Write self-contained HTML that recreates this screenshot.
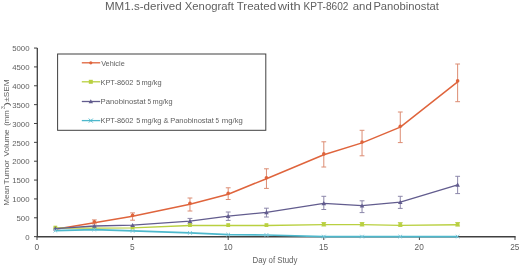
<!DOCTYPE html>
<html><head><meta charset="utf-8"><style>
html,body{margin:0;padding:0;background:#fff;width:520px;height:266px;overflow:hidden}
svg{display:block;will-change:transform}
text{font-family:"Liberation Sans",sans-serif;fill:#5f5f5f}
.t{font-size:7.8px}
.l{font-size:7.4px}
.ti{font-size:11.27px}
.xt{font-size:7.9px}
.xl{font-size:8.3px}
.yt{font-size:8.75px}
</style></head><body>
<svg width="520" height="266" viewBox="0 0 520 266">
<rect width="520" height="266" fill="#fff"/>
<g>
<path d="M37.3,47.9V236.75H515.6" stroke="#404040" stroke-width="1.3" fill="none"/>
<path d="M34,236.65H37.3" stroke="#404040" stroke-width="1"/>
<text x="29.5" y="239.85" text-anchor="end" class="t">0</text>
<path d="M34,217.79H37.3" stroke="#404040" stroke-width="1"/>
<text x="29.5" y="220.99" text-anchor="end" class="t">500</text>
<path d="M34,198.93H37.3" stroke="#404040" stroke-width="1"/>
<text x="29.5" y="202.13" text-anchor="end" class="t">1000</text>
<path d="M34,180.07H37.3" stroke="#404040" stroke-width="1"/>
<text x="29.5" y="183.27" text-anchor="end" class="t">1500</text>
<path d="M34,161.21H37.3" stroke="#404040" stroke-width="1"/>
<text x="29.5" y="164.41" text-anchor="end" class="t">2000</text>
<path d="M34,142.35H37.3" stroke="#404040" stroke-width="1"/>
<text x="29.5" y="145.55" text-anchor="end" class="t">2500</text>
<path d="M34,123.49H37.3" stroke="#404040" stroke-width="1"/>
<text x="29.5" y="126.69" text-anchor="end" class="t">3000</text>
<path d="M34,104.63H37.3" stroke="#404040" stroke-width="1"/>
<text x="29.5" y="107.83" text-anchor="end" class="t">3500</text>
<path d="M34,85.77H37.3" stroke="#404040" stroke-width="1"/>
<text x="29.5" y="88.97" text-anchor="end" class="t">4000</text>
<path d="M34,66.91H37.3" stroke="#404040" stroke-width="1"/>
<text x="29.5" y="70.11" text-anchor="end" class="t">4500</text>
<path d="M34,48.05H37.3" stroke="#404040" stroke-width="1"/>
<text x="29.5" y="51.25" text-anchor="end" class="t">5000</text>
<path d="M37.00,236.6V240" stroke="#404040" stroke-width="1"/>
<text x="36.80" y="249.9" text-anchor="middle" class="xl">0</text>
<path d="M132.60,236.6V240" stroke="#404040" stroke-width="1"/>
<text x="132.40" y="249.9" text-anchor="middle" class="xl">5</text>
<path d="M228.20,236.6V240" stroke="#404040" stroke-width="1"/>
<text x="228.00" y="249.9" text-anchor="middle" class="xl" textLength="9.2" lengthAdjust="spacingAndGlyphs">10</text>
<path d="M323.80,236.6V240" stroke="#404040" stroke-width="1"/>
<text x="323.60" y="249.9" text-anchor="middle" class="xl" textLength="9.2" lengthAdjust="spacingAndGlyphs">15</text>
<path d="M419.40,236.6V240" stroke="#404040" stroke-width="1"/>
<text x="419.20" y="249.9" text-anchor="middle" class="xl" textLength="9.2" lengthAdjust="spacingAndGlyphs">20</text>
<path d="M515.00,236.6V240" stroke="#404040" stroke-width="1"/>
<text x="514.80" y="249.9" text-anchor="middle" class="xl" textLength="9.2" lengthAdjust="spacingAndGlyphs">25</text>
<path d="M323.80,222.50V226.00M321.40,222.50H326.20M321.40,226.00H326.20" stroke="#c4d56a" stroke-width="1" fill="none"/><path d="M362.04,222.50V226.00M359.64,222.50H364.44M359.64,226.00H364.44" stroke="#c4d56a" stroke-width="1" fill="none"/><path d="M400.28,222.50V226.00M397.88,222.50H402.68M397.88,226.00H402.68" stroke="#c4d56a" stroke-width="1" fill="none"/><path d="M457.64,222.50V226.00M455.24,222.50H460.04M455.24,226.00H460.04" stroke="#c4d56a" stroke-width="1" fill="none"/>

<path d="M189.96,218.40V223.60M187.56,218.40H192.36M187.56,223.60H192.36" stroke="#8c87aa" stroke-width="1" fill="none"/><path d="M228.20,212.00V220.40M225.80,212.00H230.60M225.80,220.40H230.60" stroke="#8c87aa" stroke-width="1" fill="none"/><path d="M266.44,208.20V217.00M264.04,208.20H268.84M264.04,217.00H268.84" stroke="#8c87aa" stroke-width="1" fill="none"/><path d="M323.80,196.30V209.50M321.40,196.30H326.20M321.40,209.50H326.20" stroke="#8c87aa" stroke-width="1" fill="none"/><path d="M362.04,200.80V212.60M359.64,200.80H364.44M359.64,212.60H364.44" stroke="#8c87aa" stroke-width="1" fill="none"/><path d="M400.28,196.30V208.40M397.88,196.30H402.68M397.88,208.40H402.68" stroke="#8c87aa" stroke-width="1" fill="none"/><path d="M457.64,176.30V193.60M455.24,176.30H460.04M455.24,193.60H460.04" stroke="#8c87aa" stroke-width="1" fill="none"/>
<path d="M94.36,219.90V223.90M91.96,219.90H96.76M91.96,223.90H96.76" stroke="#dc8c72" stroke-width="1" fill="none"/><path d="M132.60,212.90V220.20M130.20,212.90H135.00M130.20,220.20H135.00" stroke="#dc8c72" stroke-width="1" fill="none"/><path d="M189.96,198.00V211.00M187.56,198.00H192.36M187.56,211.00H192.36" stroke="#dc8c72" stroke-width="1" fill="none"/><path d="M228.20,187.80V199.50M225.80,187.80H230.60M225.80,199.50H230.60" stroke="#dc8c72" stroke-width="1" fill="none"/><path d="M266.44,168.80V188.40M264.04,168.80H268.84M264.04,188.40H268.84" stroke="#dc8c72" stroke-width="1" fill="none"/><path d="M323.80,141.80V167.00M321.40,141.80H326.20M321.40,167.00H326.20" stroke="#dc8c72" stroke-width="1" fill="none"/><path d="M362.04,130.30V155.80M359.64,130.30H364.44M359.64,155.80H364.44" stroke="#dc8c72" stroke-width="1" fill="none"/><path d="M400.28,112.00V142.60M397.88,112.00H402.68M397.88,142.60H402.68" stroke="#dc8c72" stroke-width="1" fill="none"/><path d="M457.64,64.00V101.70M455.24,64.00H460.04M455.24,101.70H460.04" stroke="#dc8c72" stroke-width="1" fill="none"/>
<polyline points="55.36,229.30 94.36,222.70 132.60,216.20 189.96,204.20 228.20,194.20 266.44,178.70 323.80,154.80 362.04,142.90 400.28,127.10 457.64,81.80" fill="none" stroke="#df643c" stroke-width="1.5" stroke-linejoin="round"/>
<circle cx="55.36" cy="228.40" r="1.8" fill="#df643c"/><circle cx="94.36" cy="221.80" r="1.8" fill="#df643c"/><circle cx="132.60" cy="215.30" r="1.8" fill="#df643c"/><circle cx="189.96" cy="203.30" r="1.8" fill="#df643c"/><circle cx="228.20" cy="193.30" r="1.8" fill="#df643c"/><circle cx="266.44" cy="177.80" r="1.8" fill="#df643c"/><circle cx="323.80" cy="153.90" r="1.8" fill="#df643c"/><circle cx="362.04" cy="142.00" r="1.8" fill="#df643c"/><circle cx="400.28" cy="126.20" r="1.8" fill="#df643c"/><circle cx="457.64" cy="80.90" r="1.8" fill="#df643c"/>
<polyline points="55.36,228.00 94.36,228.10 132.60,227.90 189.96,225.50 228.20,225.50 266.44,225.50 323.80,224.60 362.04,224.60 400.28,225.40 457.64,224.80" fill="none" stroke="#b9d040" stroke-width="1.4" stroke-linejoin="round"/>
<rect x="53.46" y="225.70" width="3.8" height="3.8" fill="#b9d040"/><rect x="92.46" y="225.80" width="3.8" height="3.8" fill="#b9d040"/><rect x="130.70" y="225.60" width="3.8" height="3.8" fill="#b9d040"/><rect x="188.06" y="223.20" width="3.8" height="3.8" fill="#b9d040"/><rect x="226.30" y="223.20" width="3.8" height="3.8" fill="#b9d040"/><rect x="264.54" y="223.20" width="3.8" height="3.8" fill="#b9d040"/><rect x="321.90" y="222.30" width="3.8" height="3.8" fill="#b9d040"/><rect x="360.14" y="222.30" width="3.8" height="3.8" fill="#b9d040"/><rect x="398.38" y="223.10" width="3.8" height="3.8" fill="#b9d040"/><rect x="455.74" y="222.50" width="3.8" height="3.8" fill="#b9d040"/>
<polyline points="55.36,228.60 94.36,226.00 132.60,225.20 189.96,221.20 228.20,216.20 266.44,212.30 323.80,203.30 362.04,205.70 400.28,202.20 457.64,184.90" fill="none" stroke="#625c8e" stroke-width="1.3" stroke-linejoin="round"/>
<path d="M55.36,226.30L57.66,230.44L53.06,230.44Z" fill="#625c8e"/><path d="M94.36,223.70L96.66,227.84L92.06,227.84Z" fill="#625c8e"/><path d="M132.60,222.90L134.90,227.04L130.30,227.04Z" fill="#625c8e"/><path d="M189.96,218.90L192.26,223.04L187.66,223.04Z" fill="#625c8e"/><path d="M228.20,213.90L230.50,218.04L225.90,218.04Z" fill="#625c8e"/><path d="M266.44,210.00L268.74,214.14L264.14,214.14Z" fill="#625c8e"/><path d="M323.80,201.00L326.10,205.14L321.50,205.14Z" fill="#625c8e"/><path d="M362.04,203.40L364.34,207.54L359.74,207.54Z" fill="#625c8e"/><path d="M400.28,199.90L402.58,204.04L397.98,204.04Z" fill="#625c8e"/><path d="M457.64,182.60L459.94,186.74L455.34,186.74Z" fill="#625c8e"/>
<polyline points="55.36,230.60 94.36,229.60 132.60,230.90 189.96,232.90 228.20,234.60 266.44,235.00 323.80,236.60 362.04,236.60 400.28,236.60 457.64,236.60" fill="none" stroke="#4db8cc" stroke-width="1.7" stroke-linejoin="round"/>
<path d="M53.56,228.80L57.16,232.40M57.16,228.80L53.56,232.40" stroke="#7cc6d8" stroke-width="1"/><path d="M92.56,227.80L96.16,231.40M96.16,227.80L92.56,231.40" stroke="#7cc6d8" stroke-width="1"/><path d="M130.80,229.10L134.40,232.70M134.40,229.10L130.80,232.70" stroke="#7cc6d8" stroke-width="1"/><path d="M188.16,231.10L191.76,234.70M191.76,231.10L188.16,234.70" stroke="#7cc6d8" stroke-width="1"/><path d="M226.40,232.80L230.00,236.40M230.00,232.80L226.40,236.40" stroke="#7cc6d8" stroke-width="1"/><path d="M264.64,233.20L268.24,236.80M268.24,233.20L264.64,236.80" stroke="#7cc6d8" stroke-width="1"/><path d="M322.00,234.80L325.60,238.40M325.60,234.80L322.00,238.40" stroke="#7cc6d8" stroke-width="1"/><path d="M360.24,234.80L363.84,238.40M363.84,234.80L360.24,238.40" stroke="#7cc6d8" stroke-width="1"/><path d="M398.48,234.80L402.08,238.40M402.08,234.80L398.48,238.40" stroke="#7cc6d8" stroke-width="1"/><path d="M455.84,234.80L459.44,238.40M459.44,234.80L455.84,238.40" stroke="#7cc6d8" stroke-width="1"/>
<rect x="57.6" y="54.0" width="208.2" height="76.3" fill="#fff" stroke="#404040" stroke-width="1"/>
<path d="M81.8,62.8H100.2" stroke="#df643c" stroke-width="1.3"/>
<circle cx="90.80" cy="62.80" r="1.6" fill="#df643c"/>
<text x="101.16" y="65.50" textLength="23.56" lengthAdjust="spacingAndGlyphs" class="l" style="font-size:7.4px">Vehicle</text>
<path d="M81.8,81.8H100.2" stroke="#b9d040" stroke-width="1.3"/>
<rect x="88.80" y="79.80" width="4.0" height="4.0" fill="#b9d040"/>
<text x="100.51" y="84.50" textLength="32.88" lengthAdjust="spacingAndGlyphs" class="l" style="font-size:7.4px">KPT-8602</text>
<text x="136.21" y="84.50" textLength="4.10" lengthAdjust="spacingAndGlyphs" class="l" style="font-size:7.4px">5</text>
<text x="141.42" y="84.50" textLength="20.25" lengthAdjust="spacingAndGlyphs" class="l" style="font-size:7.4px">mg/kg</text>
<path d="M81.8,101.5H100.2" stroke="#625c8e" stroke-width="1.3"/>
<path d="M90.80,99.30L93.00,103.26L88.60,103.26Z" fill="#625c8e"/>
<text x="100.63" y="104.20" textLength="45.03" lengthAdjust="spacingAndGlyphs" class="l" style="font-size:7.4px">Panobinostat</text>
<text x="147.44" y="104.20" textLength="3.63" lengthAdjust="spacingAndGlyphs" class="l" style="font-size:7.4px">5</text>
<text x="152.62" y="104.20" textLength="20.04" lengthAdjust="spacingAndGlyphs" class="l" style="font-size:7.4px">mg/kg</text>
<path d="M81.8,120.6H100.2" stroke="#4db8cc" stroke-width="1.3"/>
<path d="M88.80,118.60L92.80,122.60M92.80,118.60L88.80,122.60" stroke="#4db8cc" stroke-width="1"/>
<text x="100.51" y="123.30" textLength="32.88" lengthAdjust="spacingAndGlyphs" class="l" style="font-size:7.4px">KPT-8602</text>
<text x="136.21" y="123.30" textLength="4.10" lengthAdjust="spacingAndGlyphs" class="l" style="font-size:7.4px">5</text>
<text x="141.42" y="123.30" textLength="20.04" lengthAdjust="spacingAndGlyphs" class="l" style="font-size:7.4px">mg/kg</text>
<text x="163.53" y="123.30" textLength="5.10" lengthAdjust="spacingAndGlyphs" class="l" style="font-size:7.4px">&amp;</text>
<text x="170.20" y="123.30" textLength="43.66" lengthAdjust="spacingAndGlyphs" class="l" style="font-size:7.4px">Panobinostat</text>
<text x="215.55" y="123.30" textLength="3.51" lengthAdjust="spacingAndGlyphs" class="l" style="font-size:7.4px">5</text>
<text x="221.80" y="123.30" textLength="20.99" lengthAdjust="spacingAndGlyphs" class="l" style="font-size:7.4px">mg/kg</text>
<text x="104.97" y="9.80" textLength="76.61" lengthAdjust="spacingAndGlyphs" class="ti" style="font-size:11.27px">MM1.s-derived</text>
<text x="184.82" y="9.80" textLength="48.96" lengthAdjust="spacingAndGlyphs" class="ti" style="font-size:11.27px">Xenograft</text>
<text x="236.71" y="9.80" textLength="39.43" lengthAdjust="spacingAndGlyphs" class="ti" style="font-size:11.27px">Treated</text>
<text x="277.80" y="9.80" textLength="22.92" lengthAdjust="spacingAndGlyphs" class="ti" style="font-size:11.27px">with</text>
<text x="303.49" y="9.80" textLength="44.94" lengthAdjust="spacingAndGlyphs" class="ti" style="font-size:11.27px">KPT-8602</text>
<text x="352.69" y="9.80" textLength="19.04" lengthAdjust="spacingAndGlyphs" class="ti" style="font-size:11.27px">and</text>
<text x="373.40" y="9.80" textLength="65.49" lengthAdjust="spacingAndGlyphs" class="ti" style="font-size:11.27px">Panobinostat</text>
<text x="252.47" y="262.80" textLength="44.87" lengthAdjust="spacingAndGlyphs" class="xt" style="font-size:8.3px">Day of Study</text>
<g transform="translate(8.5,0) rotate(-90)"><text x="-205.75" y="0.00" textLength="20.29" lengthAdjust="spacingAndGlyphs" class="yt" style="font-size:7.9px">Mean</text><text x="-184.42" y="0.00" textLength="24.56" lengthAdjust="spacingAndGlyphs" class="yt" style="font-size:7.9px">Tumor</text><text x="-156.54" y="0.00" textLength="27.11" lengthAdjust="spacingAndGlyphs" class="yt" style="font-size:7.9px">Volume</text><text x="-125.87" y="0.00" textLength="15.67" lengthAdjust="spacingAndGlyphs" class="yt" style="font-size:7.9px">(mm</text><text x="-108.90" y="-3.70" textLength="2.84" lengthAdjust="spacingAndGlyphs" class="yt" style="font-size:5.0px">3</text><text x="-106.33" y="0.00" textLength="4.36" lengthAdjust="spacingAndGlyphs" class="yt" style="font-size:7.9px">)</text><text x="-101.65" y="0.00" textLength="22.31" lengthAdjust="spacingAndGlyphs" class="yt" style="font-size:7.9px">±SEM</text></g>
</g>
</svg>
</body></html>
